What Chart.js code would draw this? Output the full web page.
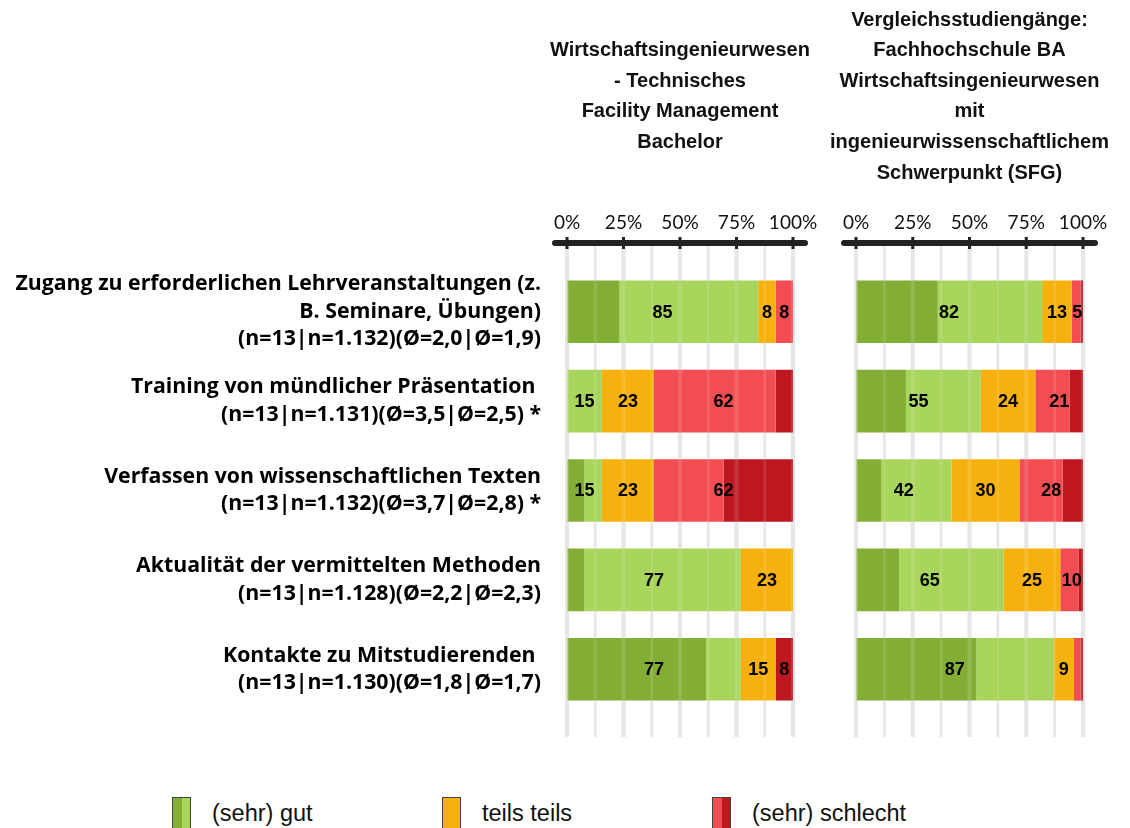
<!DOCTYPE html>
<html lang="de">
<head>
<meta charset="UTF-8">
<title>Lehrangebot – Vergleich</title>
<script src="https://cdn.jsdelivr.net/npm/chart.js@4.4.1/dist/chart.umd.min.js"></script>
<style>
    body {
        margin: 0;
        background: #fff;
        width: 1130px;
        height: 828px;
        overflow: hidden;
        position: relative;
        font-family: 'Liberation Sans', Arial, sans-serif;
    }
    canvas { position: absolute; top: 0; }
    #chartA { left: 0; }
    #chartB { left: 800px; }
    .legend-item {
        position: absolute;
        top: 797px;
        display: flex;
        align-items: flex-start;
        font-size: 23.5px;
        color: #111;
    }
    .legend-box {
        width: 17px;
        height: 30px;
        border: 1px solid #444;
        margin-right: 21px;
        display: flex;
    }
    .legend-box span { flex: 1; }
    .legend-item .txt { margin-top: 3px; }
</style>
</head>
<body>
<canvas id="chartA" width="840" height="760"></canvas>
<canvas id="chartB" width="330" height="760"></canvas>

<div class="legend-item" style="left:172px">
    <div class="legend-box"><span style="background:#82ae36"></span><span style="background:#a8d55b"></span></div>
    <div class="txt">(sehr) gut</div>
</div>
<div class="legend-item" style="left:442px">
    <div class="legend-box"><span style="background:#f7b10f"></span></div>
    <div class="txt">teils teils</div>
</div>
<div class="legend-item" style="left:712px">
    <div class="legend-box"><span style="background:#f24d53"></span><span style="background:#bf171f"></span></div>
    <div class="txt">(sehr) schlecht</div>
</div>

<script>
// Kategorien (mehrzeilige Beschriftung)
const categories = [
    ['Zugang zu erforderlichen Lehrveranstaltungen (z.', 'B. Seminare, Übungen)', '(n=13|n=1.132)(Ø=2,0|Ø=1,9)'],
    ['Training von mündlicher Präsentation ', '(n=13|n=1.131)(Ø=3,5|Ø=2,5) *'],
    ['Verfassen von wissenschaftlichen Texten', '(n=13|n=1.132)(Ø=3,7|Ø=2,8) *'],
    ['Aktualität der vermittelten Methoden', '(n=13|n=1.128)(Ø=2,2|Ø=2,3)'],
    ['Kontakte zu Mitstudierenden ', '(n=13|n=1.130)(Ø=1,8|Ø=1,7)']
];

const titleA = ['Wirtschaftsingenieurwesen', '- Technisches', 'Facility Management', 'Bachelor'];
const titleB = ['Vergleichsstudiengänge:', 'Fachhochschule BA', 'Wirtschaftsingenieurwesen', 'mit', 'ingenieurwissenschaftlichem', 'Schwerpunkt (SFG)'];

const tickValues = [0, 25, 50, 75, 100];

// Studiengang (n=13), Anteile in %
const sehrGutA      = [23.1, 0,    7.7,  7.7,  61.5];
const gutA          = [61.5, 15.4, 7.7,  69.2, 15.4];
const teilsA        = [7.7,  23.1, 23.1, 23.1, 15.4];
const schlechtA     = [7.7,  53.8, 30.8, 0,    0];
const sehrSchlechtA = [0,    7.7,  30.8, 0,    7.7];

// Vergleichsstudiengänge, Anteile in %
const sehrGutB      = [36, 22, 11, 19, 53];
const gutB          = [46, 33, 31, 46, 34];
const teilsB        = [13, 24, 30, 25, 9];
const schlechtB     = [4,  15, 19, 8,  3];
const sehrSchlechtB = [1,  6,  9,  2,  1];

const colors = ['#82ae36', '#a8d55b', '#f7b10f', '#f24d53', '#bf171f'];
const seriesNames = ['sehr gut', 'gut', 'teils teils', 'schlecht', 'sehr schlecht'];

// Achse oben, Gitterlinien, Titel und Werte
const panelPlugin = {
    id: 'panel',
    beforeDatasetsDraw(chart) {
        drawGrid(chart, '#e3e3e3');
    },
    afterDatasetsDraw(chart) {
        drawGrid(chart, 'rgba(255,255,255,0.13)');
        const ctx = chart.ctx;
        const x = chart.scales.x, y = chart.scales.y;
        const axisY = chart.chartArea.top - 24;

        // Werte (Summe je Gruppe)
        const groups = [[0, 1], [2], [3, 4]];
        ctx.save();
        ctx.font = 'bold 18px "Liberation Sans", Arial, sans-serif';
        ctx.fillStyle = '#000';
        ctx.textAlign = 'center';
        ctx.textBaseline = 'middle';
        chart.data.labels.forEach((lbl, i) => {
            let start = 0;
            groups.forEach(g => {
                let sum = 0;
                g.forEach(d => { sum += chart.data.datasets[d].data[i]; });
                const v = Math.round(sum);
                if (v >= 5) {
                    ctx.fillText(String(v), x.getPixelForValue(start + sum / 2), y.getPixelForValue(i) + 1);
                }
                start += sum;
            });
        });
        ctx.restore();

        // dicke Achse mit runden Enden
        ctx.save();
        ctx.strokeStyle = '#222';
        ctx.lineCap = 'round';
        ctx.lineWidth = 6;
        ctx.beginPath();
        ctx.moveTo(x.left - 12, axisY);
        ctx.lineTo(x.right + 12, axisY);
        ctx.stroke();
        ctx.lineCap = 'butt';
        ctx.lineWidth = 3;
        tickValues.forEach(t => {
            const px = x.getPixelForValue(t);
            ctx.beginPath();
            ctx.moveTo(px, axisY - 6);
            ctx.lineTo(px, axisY + 6);
            ctx.stroke();
        });
        ctx.restore();

        // Titel
        const lines = chart.options.plugins.panel.title;
        const cx = (chart.chartArea.left + chart.chartArea.right) / 2;
        const lh = 30.6;
        const top = 96.5 - (lines.length - 1) * lh / 2;
        ctx.save();
        ctx.font = 'bold 20px "Liberation Sans", Arial, sans-serif';
        ctx.fillStyle = '#111';
        ctx.textAlign = 'center';
        ctx.textBaseline = 'middle';
        lines.forEach((l, k) => ctx.fillText(l, cx, top + k * lh));
        ctx.restore();
    }
};

function drawGrid(chart, color) {
    const ctx = chart.ctx;
    const x = chart.scales.x;
    const y0 = chart.chartArea.top - 24;
    const y1 = chart.chartArea.bottom + 23;
    ctx.save();
    ctx.strokeStyle = color;
    for (let v = 0; v <= 100; v += 12.5) {
        const px = x.getPixelForValue(v);
        ctx.lineWidth = v % 25 === 0 ? 4 : 2.5;
        ctx.beginPath();
        ctx.moveTo(px, y0);
        ctx.lineTo(px, y1);
        ctx.stroke();
    }
    ctx.restore();
}

function makeChart(id, series, title, showLabels, padding) {
    const datasets = series.map((d, k) => ({
        label: seriesNames[k],
        data: d,
        backgroundColor: colors[k],
        borderWidth: 0,
        barPercentage: 0.7,
        categoryPercentage: 1.0
    }));
    return new Chart(document.getElementById(id), {
        type: 'bar',
        data: { labels: categories, datasets: datasets },
        plugins: [panelPlugin],
        options: {
            indexAxis: 'y',
            responsive: false,
            devicePixelRatio: 1,
            animation: false,
            layout: { padding: padding },
            plugins: {
                legend: { display: false },
                tooltip: { enabled: false },
                panel: { title: title }
            },
            scales: {
                x: {
                    position: 'top',
                    stacked: true,
                    min: 0,
                    max: 100,
                    afterFit: s => { s.height = 267; s.paddingLeft = 0; s.paddingRight = 0; },
                    grid: { display: true, color: 'transparent', drawTicks: true, tickLength: 24 },
                    border: { display: false },
                    ticks: {
                        stepSize: 12.5,
                        autoSkip: false,
                        maxRotation: 0,
                        padding: 9,
                        color: '#111',
                        font: { family: 'Lato', size: 19 },
                        callback: v => (v % 25 === 0 ? v + '%' : '')
                    }
                },
                y: {
                    stacked: true,
                    display: showLabels,
                    afterFit: s => { s.width = showLabels ? 567 : 0; s.paddingTop = 0; s.paddingBottom = 0; },
                    grid: { display: false, drawTicks: false },
                    border: { display: false },
                    ticks: {
                        autoSkip: false,
                        padding: 26,
                        color: '#000',
                        font: { family: 'Open Sans', size: 21.3, weight: 'bold', lineHeight: 1.29 }
                    }
                }
            }
        }
    });
}

makeChart('chartA', [sehrGutA, gutA, teilsA, schlechtA, sehrSchlechtA], titleA, true,
    { left: 0, right: 47, top: 0, bottom: 46 });
makeChart('chartB', [sehrGutB, gutB, teilsB, schlechtB, sehrSchlechtB], titleB, false,
    { left: 56, right: 47, top: 0, bottom: 46 });
</script>
</body>
</html>
